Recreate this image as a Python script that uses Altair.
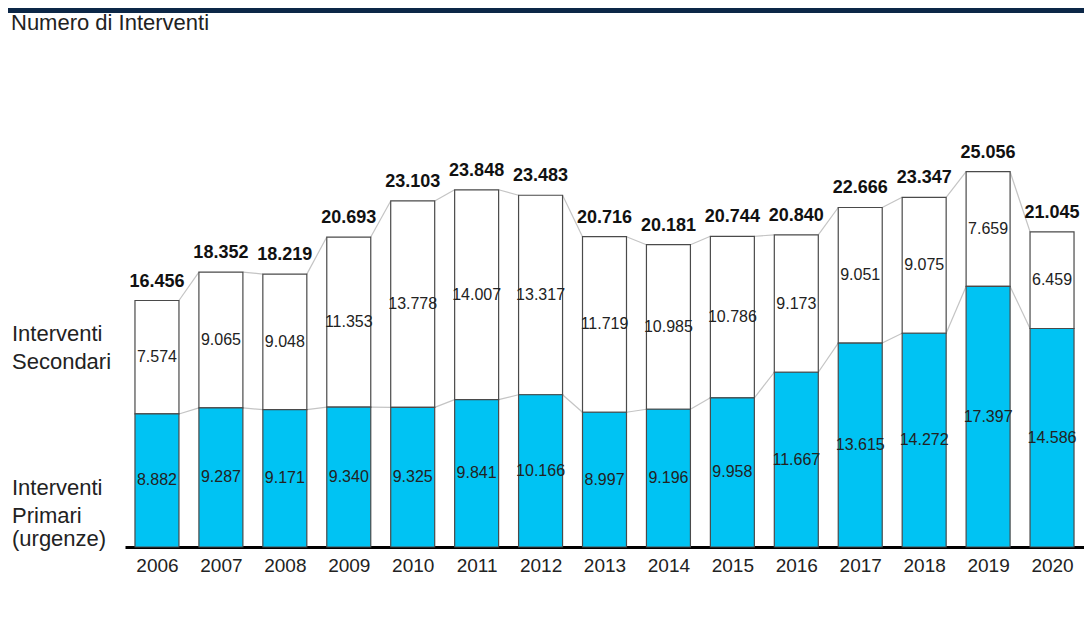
import altair as alt
import pandas as pd

years = list(range(2006, 2021))
primari = [8882, 9287, 9171, 9340, 9325, 9841, 10166, 8997, 9196, 9958, 11667, 13615, 14272, 17397, 14586]
secondari = [7574, 9065, 9048, 11353, 13778, 14007, 13317, 11719, 10985, 10786, 9173, 9051, 9075, 7659, 6459]
title_text = "Numero di Interventi"
left_labels = ["Interventi", "Secondari", "Interventi", "Primari", "(urgenze)"]

FONT = "Liberation Sans"
CYAN = "#00C3F3"
HALF = 0.344


def fmt(v):
    return f"{v:,}".replace(",", ".")


rows = []
for y, p, s in zip(years, primari, secondari):
    t = p + s
    rows.append(dict(year=y, x0=y - HALF, x1=y + HALF, p=p, s=s, t=t,
                     pmid=p / 2, smid=p + s / 2,
                     plab=fmt(p), slab=fmt(s), tlab=fmt(t)))
df = pd.DataFrame(rows)

seg = []
for i in range(len(rows) - 1):
    a, b = rows[i], rows[i + 1]
    seg.append(dict(xa=a["x1"], xb=b["x0"], ya=a["t"], yb=b["t"]))
    seg.append(dict(xa=a["x1"], xb=b["x0"], ya=a["p"], yb=b["p"]))
segdf = pd.DataFrame(seg)

xscale = alt.Scale(domain=[2005.5, 2020.5], nice=False, zero=False)
yscale = alt.Scale(domain=[0, 28040], nice=False)

base = alt.Chart(df)

xaxis = alt.Axis(values=years, format="d", ticks=False, grid=False, title=None,
                 domainColor="black", domainWidth=3, labelFontSize=19,
                 labelColor="#222", labelFont=FONT, labelPadding=9)

lines = alt.Chart(segdf).mark_rule(color="#c4c4c4", strokeWidth=1.2).encode(
    x=alt.X("xa:Q", scale=xscale, axis=xaxis),
    x2="xb:Q",
    y=alt.Y("ya:Q", scale=yscale, axis=None),
    y2="yb:Q",
)

bar_p = base.mark_rect(fill=CYAN, stroke="#4a4a4a", strokeWidth=1.2).encode(
    x=alt.X("x0:Q", scale=xscale), x2="x1:Q",
    y=alt.Y("p:Q", scale=yscale), y2=alt.datum(0),
)
bar_s = base.mark_rect(fill="white", stroke="#4a4a4a", strokeWidth=1.2).encode(
    x=alt.X("x0:Q", scale=xscale), x2="x1:Q",
    y=alt.Y("t:Q", scale=yscale), y2="p:Q",
)

txt_p = base.mark_text(font=FONT, fontSize=16, color="#222", baseline="middle").encode(
    x=alt.X("year:Q", scale=xscale), y=alt.Y("pmid:Q", scale=yscale), text="plab:N")
txt_s = base.mark_text(font=FONT, fontSize=16, color="#222", baseline="middle").encode(
    x=alt.X("year:Q", scale=xscale), y=alt.Y("smid:Q", scale=yscale), text="slab:N")
txt_t = base.mark_text(font=FONT, fontSize=18, fontWeight="bold", color="#111",
                       baseline="alphabetic", dy=-14).encode(
    x=alt.X("year:Q", scale=xscale), y=alt.Y("t:Q", scale=yscale), text="tlab:N")

topbar = alt.Chart(pd.DataFrame({"a": [0]})).mark_rect(color="#0c2747").encode(
    x=alt.value(-117), x2=alt.value(970), y=alt.value(-119), y2=alt.value(-114))

title = alt.Chart(pd.DataFrame({"t": [title_text]})).mark_text(
    font=FONT, fontSize=22, color="#222", align="left", baseline="alphabetic").encode(
    x=alt.value(-114), y=alt.value(-97), text="t:N")

lab_y = [214, 242, 368, 396, 419]
lab_df = pd.DataFrame({"t": left_labels, "py": lab_y})
labels = alt.Chart(lab_df).mark_text(
    font=FONT, fontSize=22, color="#222", align="left", baseline="alphabetic").encode(
    x=alt.value(-113), y=alt.Y("py:Q", scale=None), text="t:N")

chart = alt.layer(topbar, lines, bar_s, bar_p, txt_p, txt_s, txt_t, title, labels).properties(
    width=959, height=420,
    autosize=alt.AutoSizeParams(type="none"),
    padding={"left": 117, "top": 119, "right": 0, "bottom": 60},
).configure(background="white").configure_view(stroke=None, strokeWidth=0)

chart.save("out.html", embed_options={"renderer": "svg", "actions": False})
